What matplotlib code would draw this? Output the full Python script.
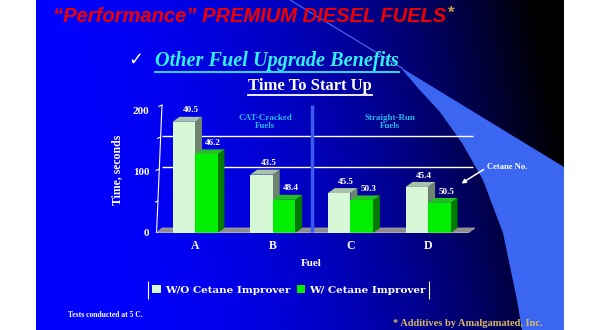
import numpy as np
import matplotlib
matplotlib.use("Agg")
import matplotlib.pyplot as plt
from matplotlib.patches import Polygon, Patch

# data
fuels = ["A", "B", "C", "D"]
time_without = [181, 95, 65, 75]
time_with = [128, 54, 53, 49]
cetane_without = ["40.5", "43.5", "45.5", "45.4"]
cetane_with = ["46.2", "48.4", "50.3", "50.5"]
grid_values = [100, 150]
y_labels = [0, 100, 200]
y_marks = [50, 100, 150, 200]
series_names = ["W/O Cetane Improver", "W/ Cetane Improver"]

SERIF = "Liberation Serif"
LIGHT = "#d6f8d6"
LIGHT_TOP = "#a9c2a9"
LIGHT_SIDE = "#6f846f"
GREEN = "#00ee00"
GREEN_TOP = "#22c022"
GREEN_SIDE = "#007a00"

W, H = 600, 330
fig = plt.figure(figsize=(6, 3.3), dpi=100)
fig.patch.set_facecolor("white")

# background axes in pixel units
bg = fig.add_axes([0, 0, 1, 1])
bg.set_xlim(0, W)
bg.set_ylim(H, 0)
bg.axis("off")

x0, x1 = 36, 564
gx, gy = np.meshgrid(np.linspace(0, 1, 400), np.linspace(0, 1, 250))
t = np.clip(gx * 1.02 - 0.12 * gy + 0.04, 0, 1)
img = np.zeros(gx.shape + (3,))
img[..., 2] = 1 - t ** 2
bg.imshow(img, extent=(x0, x1, H, 0), aspect="auto", zorder=0)

# light swoosh on the right
swoosh = [(400, 67), (564, 167), (564, 330), (522, 330), (517, 300), (503, 233),
          (483, 180), (462, 143), (440, 112), (418, 88)]
bg.add_patch(Polygon(swoosh, closed=True, facecolor="#3b66f2", edgecolor="none", zorder=1))
bg.plot([290, 402], [0, 68], color="#4a70ee", lw=0.8, zorder=1)

# titles
t1 = bg.text(53, 17, "\u201cPerformance\u201d PREMIUM DIESEL FUELS", color="#ee0000",
             fontsize=14.5, fontweight="bold", fontstyle="italic",
             family="Liberation Sans", ha="left", va="center", zorder=3)
fig.canvas.draw()
bb = t1.get_window_extent().transformed(bg.transData.inverted())
bg.text(bb.x1 + 2, 13, "*", color="#c8a040", fontsize=12, fontweight="bold",
        family="Liberation Sans", ha="left", va="center", zorder=3)

bg.text(136, 60, "\u2713", color="white", fontsize=13, family=["DejaVu Sans"],
        ha="center", va="center", zorder=3)
t2 = bg.text(155, 61, "Other Fuel Upgrade Benefits", color="#30f0f4", fontsize=14.6,
             fontweight="bold", fontstyle="italic", family=SERIF,
             ha="left", va="center", zorder=3)
t3 = bg.text(310, 86, "Time To Start Up", color="white", fontsize=12,
             fontweight="bold", family=SERIF, ha="center", va="center", zorder=3)
fig.canvas.draw()
for txt, col in ((t2, "#30f0f4"), (t3, "white")):
    b = txt.get_window_extent().transformed(bg.transData.inverted())
    bg.plot([b.x0, b.x1], [b.y0 + 0.5, b.y0 + 0.5], color=col, lw=1.3, zorder=3)

# chart axes: y=0 at px 233, ylim top at px 104; x category centres every 77.7 px
px_left, px_right, px_base, px_top = 155, 475, 233, 104
step = 77.7
xl = (px_left - 195) / step
xr = (px_right - 195) / step
ymax = 210
ax = fig.add_axes([px_left / W, (H - px_base) / H, (px_right - px_left) / W,
                   (px_base - px_top) / H])
ax.set_xlim(xl, xr)
ax.set_ylim(0, ymax)
ax.patch.set_alpha(0)
for s in ax.spines.values():
    s.set_visible(False)
ax.set_zorder(2)

ux = 1 / step
uy = ymax / (px_base - px_top)
dx, dy = 7 * ux, 5 * uy
bw = 22.5 * ux

# floor slab
ax.add_patch(Polygon([(xl + 0.02, 0), (xr - dx, 0), (xr, dy), (xl + dx, dy)],
                     closed=True, facecolor="#8e8e8e", edgecolor="#b0b0b0", lw=0.5, zorder=1))
# back-wall grid lines
ax.hlines([g + dy for g in grid_values], xl + dx, xr - 0.02, color="white", lw=1, zorder=1)
# slanted value axis with marks
ax.plot([xl + 0.02, xl + dx], [0, 200 + dy], color="white", lw=0.8, zorder=2)
for m in y_marks:
    xm = xl + 0.02 + (dx - 0.02) * (m / 200)
    ax.plot([xm - 0.04, xm], [m + dy * m / 200 - 2, m + dy * m / 200], color="white", lw=0.8)

# divider between fuel families
ax.vlines(1.5, 0, 200 + dy, color="#3c5cf0", lw=2.5, zorder=1.5)

xpos = np.arange(len(fuels))


def bar3d(xc, v, top, side):
    l, r = xc - bw / 2, xc + bw / 2
    ax.add_patch(Polygon([(r, 0), (r, v), (r + dx, v + dy), (r + dx, dy)],
                         closed=True, facecolor=side, edgecolor="none", zorder=3))
    ax.add_patch(Polygon([(l, v), (r, v), (r + dx, v + dy), (l + dx, v + dy)],
                         closed=True, facecolor=top, edgecolor="none", zorder=3))


for i in xpos:
    bar3d(i - bw / 2, time_without[i], LIGHT_TOP, LIGHT_SIDE)
ax.bar(xpos - bw / 2, time_without, width=bw, color=LIGHT, zorder=3.1)
for i in xpos:
    bar3d(i + bw / 2, time_with[i], GREEN_TOP, GREEN_SIDE)
ax.bar(xpos + bw / 2, time_with, width=bw, color=GREEN, zorder=3.2)

lab_kw = dict(color="white", fontsize=6.6, fontweight="bold", family=SERIF,
              ha="center", va="bottom", zorder=4)
for i in xpos:
    ax.text(i - bw / 2 + 0.09, time_without[i] + 12, cetane_without[i], **lab_kw)
    ax.text(i + bw / 2 + 0.09, time_with[i] + 12, cetane_with[i], **lab_kw)

# front axis line with category separators
ax.hlines(0, xl, xr - dx, color="white", lw=1, zorder=4)
ax.vlines([0.5, 1.5, 2.5], -4 * uy, 0, color="white", lw=0.8, zorder=4)

ax.set_xticks(xpos)
ax.set_xticklabels(fuels)
ax.set_yticks(y_labels)
ax.set_yticklabels([str(v) for v in y_labels])
ax.tick_params(length=0, colors="white")
ax.tick_params(axis="x", pad=5)
ax.tick_params(axis="y", pad=4)
for lab in ax.get_xticklabels():
    lab.set_fontfamily(SERIF)
    lab.set_fontweight("bold")
    lab.set_fontsize(8.5)
for lab in ax.get_yticklabels():
    lab.set_fontfamily(SERIF)
    lab.set_fontweight("bold")
    lab.set_fontsize(8)

grp_kw = dict(color="#2ab8e8", fontsize=6.5, fontweight="bold", family=SERIF,
              ha="center", va="center", linespacing=1.1, zorder=4)
ax.text(0.9, 181, "CAT-Cracked\nFuels", **grp_kw)
ax.text(2.51, 181, "Straight-Run\nFuels", **grp_kw)

# axis titles
bg.text(117, 170, "Time, seconds", rotation=90, color="white", fontsize=8.5,
        fontweight="bold", family=SERIF, ha="center", va="center", zorder=3)
bg.text(311, 263, "Fuel", color="white", fontsize=8, fontweight="bold",
        family=SERIF, ha="center", va="center", zorder=3)

# cetane callout
bg.text(487, 167, "Cetane No.", color="white", fontsize=6.2, fontweight="bold",
        family=SERIF, ha="left", va="center", zorder=5)
bg.annotate("", xy=(459, 185), xytext=(486, 168), zorder=5,
            arrowprops=dict(arrowstyle="-|>", color="white", lw=1.1, mutation_scale=6))

# legend
handles = [Patch(facecolor=LIGHT, edgecolor="none"), Patch(facecolor=GREEN, edgecolor="none")]
leg = fig.legend(handles, series_names, loc="center", bbox_to_anchor=(289 / W, 1 - 290 / H),
                 ncol=2, frameon=False, handlelength=0.8, handleheight=0.8,
                 handletextpad=0.4, columnspacing=0.6,
                 prop={"family": "DejaVu Serif", "weight": "bold", "size": 7.5})
for txt in leg.get_texts():
    txt.set_color("white")
bg.vlines([148, 429], 281, 299, color="white", lw=0.8, zorder=3)

bg.text(68, 315, "Tests conducted at 5 C.", color="white", fontsize=5.5,
        fontweight="bold", family=SERIF, ha="left", va="center", zorder=3)
bg.text(543, 323, "* Additives by Amalgamated, Inc.", color="#d8b868", fontsize=7.5,
        fontweight="bold", family=SERIF, ha="right", va="center", zorder=3)

fig.savefig("out.png", dpi=100, facecolor="white")
